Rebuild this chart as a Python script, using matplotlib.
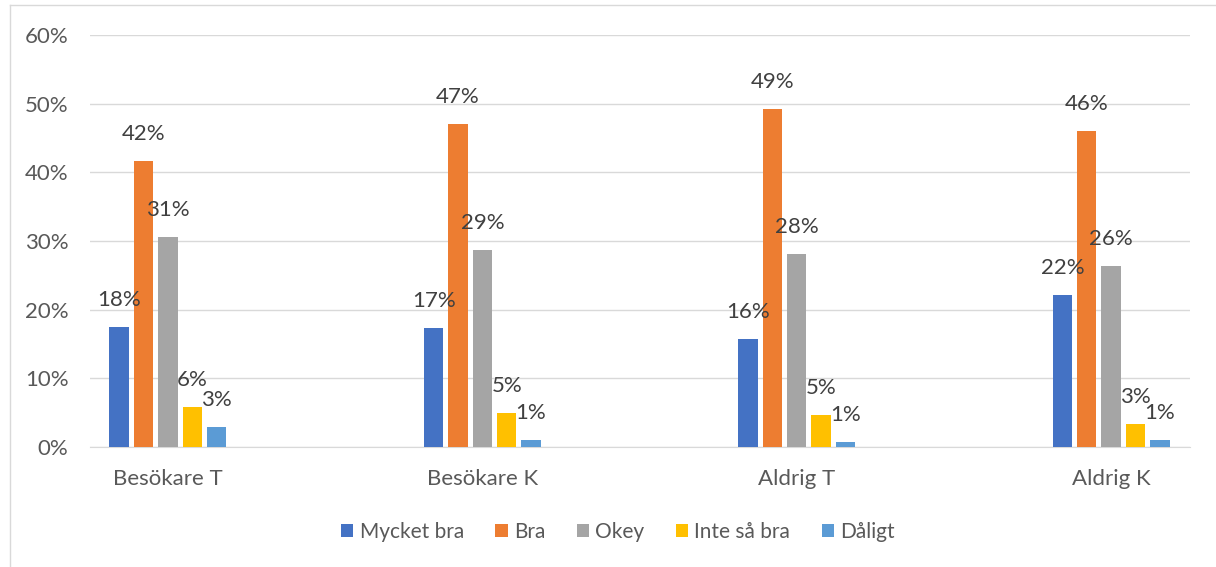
import matplotlib.pyplot as plt
import numpy as np

# survey answers per group, in percent
categories = ["Besökare T", "Besökare K", "Aldrig T", "Aldrig K"]
series = ["Mycket bra", "Bra", "Okey", "Inte så bra", "Dåligt"]
mycket_bra = [17.5, 17.3, 15.8, 22.2]
bra = [41.6, 47.1, 49.2, 46.0]
okey = [30.6, 28.7, 28.1, 26.4]
inte_sa_bra = [5.8, 5.0, 4.7, 3.4]
daligt = [2.9, 1.0, 0.7, 1.0]
values = [mycket_bra, bra, okey, inte_sa_bra, daligt]
colors = ["#4472C4", "#ED7D31", "#A5A5A5", "#FFC000", "#5B9BD5"]
yticks = [0, 10, 20, 30, 40, 50, 60]

plt.rcParams['font.family'] = ['Lato', 'DejaVu Sans']
text_col = "#595959"
fs = 16

fig = plt.figure(figsize=(12.16, 5.67), dpi=100)
ax = fig.add_axes([90/1216, 1-447/567, 1100/1216, 412/567])

x = np.arange(len(categories))
step = 0.0775
width = 0.062
for i, (name, vals, col) in enumerate(zip(series, values, colors)):
    pos = x + (i - 2) * step
    ax.bar(pos, vals, width, color=col, label=name, zorder=3)
    for px, v in zip(pos, vals):
        ax.annotate(f"{round(v):.0f}%", (px, v), xytext=(0, 17), textcoords="offset pixels",
                    ha="center", va="bottom", fontsize=fs, color="#404040", zorder=4)

ax.set_xlim(-0.248, 3.251)
ax.set_ylim(0, 60)
ax.set_yticks(yticks)
ax.set_yticklabels([f"{t}%" for t in yticks])
ax.set_xticks(x)
ax.set_xticklabels(categories)
ax.tick_params(axis="y", length=0, pad=15.5, labelsize=fs, labelcolor=text_col)
ax.tick_params(axis="x", length=0, pad=16, labelsize=fs, labelcolor=text_col)
ax.grid(axis="y", color="#d9d9d9", linewidth=1, zorder=0)
for s in ["top", "right", "left"]:
    ax.spines[s].set_visible(False)
ax.spines["bottom"].set_color("#d9d9d9")

ax.legend(loc="center", bbox_to_anchor=(618/1216, 1-532/567), bbox_transform=fig.transFigure,
          ncol=5, frameon=False, fontsize=15, labelcolor=text_col,
          handlelength=0.6, handleheight=0.6, handletextpad=0.3, columnspacing=1.5)

# chart border (only left and top visible in reference)
fig.add_artist(plt.Line2D([10/1216, 10/1216], [0, 1-5/567], color="#d9d9d9", linewidth=1))
fig.add_artist(plt.Line2D([10/1216, 1], [1-5/567, 1-5/567], color="#d9d9d9", linewidth=1))

fig.savefig("out.png", dpi=100)
